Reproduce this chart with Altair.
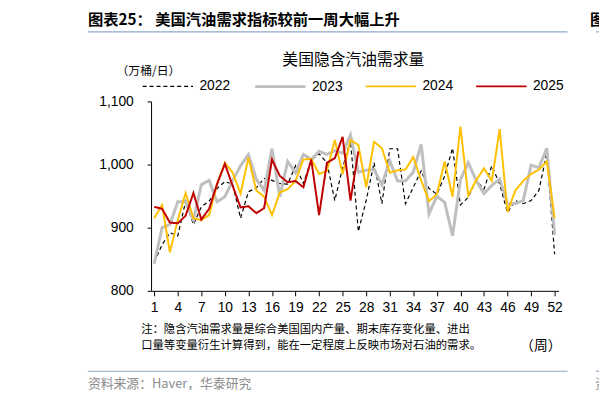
import altair as alt
import pandas as pd

weeks = list(range(1, 53))
years = ["2022", "2023", "2024", "2025"]
v2022 = [845, 873, 892, 887, 942, 905, 933, 942, 962, 973, 969, 915, 957, 963, 978, 975, 970, 969, 998, 970,
         1007, 1017, 1003, 943, 995, 1038, 894, 943, 1003, 938, 1025, 1025, 938, 964, 990, 962, 953, 982, 1026, 936,
         948, 975, 961, 998, 969, 924, 943, 938, 943, 959, 1018, 858]
v2023 = [843, 900, 905, 941, 941, 912, 968, 975, 941, 949, 975, 998, 1016, 977, 959, 1025, 949, 1005, 987, 1016,
         1008, 1021, 1016, 1022, 1018, 1047, 988, 991, 992, 968, 1006, 974, 974, 988, 1032, 922, 950, 940, 887, 976,
         1003, 975, 954, 967, 977, 938, 938, 943, 999, 995, 1026, 889]
v2024 = [915, 936, 861, 912, 955, 915, 912, 920, 969, 1003, 987, 954, 1011, 959, 949, 920, 956, 961, 974, 1008,
         1009, 985, 990, 1039, 985, 1039, 1031, 964, 1036, 1026, 987, 991, 992, 1012, 975, 942, 953, 1005, 949, 1060,
         951, 975, 994, 974, 1056, 925, 959, 974, 985, 992, 1005, 915]
v2025 = [933, 930, 908, 907, 919, 955, 913, 930, 969, 1001, 966, 932, 934, 923, 931, 1008, 982, 972, 974, 964,
         1008, 920, 1003, 1010, 1044, 943, 1021]
colors = ["#000000", "#BFBFBF", "#FFC000", "#C00000"]
widths = [1.2, 3, 2, 2]
dashes = [[4, 3], [1, 0], [1, 0], [1, 0]]
x_ticks = list(range(1, 53, 3))
y_ticks = [800, 900, 1000, 1100]

title_text = "图表25：  美国汽油需求指标较前一周大幅上升"
chart_title = "美国隐含汽油需求量"
unit_text = "（万桶/日）"
note1 = "注：隐含汽油需求量是综合美国国内产量、期末库存变化量、进出"
note2 = "口量等变量衍生计算得到，能在一定程度上反映市场对石油的需求。"
week_text = "（周）"
source_text = "资料来源：Haver，华泰研究"

rows = []
for yr, vals in zip(years, [v2022, v2023, v2024, v2025]):
    for w, v in zip(weeks, vals):
        rows.append({"week": w, "value": v, "year": yr})
df = pd.DataFrame(rows)

CJK = "Noto Sans CJK SC"
LAT = "Liberation Sans"


def make_legend():
    return alt.Legend(title=None, orient="none", legendX=-10, legendY=-42, direction="horizontal",
                      symbolType="stroke", symbolSize=2601, labelFont=LAT, labelFontSize=14,
                      labelColor="black", labelOffset=5, columnPadding=18, columns=4)


lines = alt.Chart(df).mark_line().encode(
    x=alt.X("week:Q", scale=alt.Scale(domain=[0.6, 52.5], nice=False, zero=False),
            axis=alt.Axis(values=x_ticks, title=None, grid=False, domainColor="black", tickColor="black",
                          tickSize=5, labelFontSize=14, labelFont=LAT, labelColor="black", labelPadding=5,
                          labelFlush=False)),
    y=alt.Y("value:Q", scale=alt.Scale(domain=[800, 1100], nice=False, zero=False),
            axis=alt.Axis(values=y_ticks, format=",d", title=None, grid=False, domainColor="black",
                          tickColor="black", tickSize=4, labelFontSize=14, labelFont=LAT, labelColor="black",
                          labelPadding=14)),
    color=alt.Color("year:N", scale=alt.Scale(domain=years, range=colors), legend=make_legend()),
    strokeDash=alt.StrokeDash("year:N", scale=alt.Scale(type="ordinal", domain=years, range=dashes),
                              legend=make_legend()),
    strokeWidth=alt.StrokeWidth("year:N", scale=alt.Scale(type="ordinal", domain=years, range=widths),
                                legend=make_legend()),
    order="week:Q",
)


def txt(s, x, y, size, align="left", weight="normal", color="black", font=CJK):
    return alt.Chart(pd.DataFrame({"t": [s]})).mark_text(
        align=align, baseline="middle", fontSize=size, fontWeight=weight, color=color, font=font
    ).encode(x=alt.value(x), y=alt.value(y), text="t:N")


def hline(x1, x2, y, color="#8FA9C9"):
    return alt.Chart(pd.DataFrame({"a": [0]})).mark_rule(color=color, strokeWidth=1.2).encode(
        x=alt.value(x1), x2=alt.value(x2), y=alt.value(y))


layers = [
    lines,
    txt(title_text, -64, -82, 15.5, weight="bold"),
    hline(-64, 422, -70.5),
    txt("图", 445, -82, 15.5, weight="bold"),
    hline(451, 460, -70.5),
    txt(chart_title, 205, -42, 16, align="center"),
    txt(unit_text, -35, -31, 12),
    txt(note1, -10, 231.5, 11.5),
    txt(note2, -10, 248, 11.5),
    txt(week_text, 416, 248, 14, align="right"),
    hline(-64, 422, 273.5),
    hline(451, 460, 273.5),
    txt(source_text, -64, 286, 13, color="#8C8C8C"),
    txt("资", 450, 286, 13, color="#8C8C8C"),
]

chart = alt.layer(*layers).properties(
    width=413, height=192,
    autosize=alt.AutoSizeParams(type="none"),
    padding={"left": 145, "top": 92, "right": 41, "bottom": 111},
    background="white",
).configure_view(stroke=None)

chart.save("out.html", embed_options={"renderer": "svg", "actions": False})
